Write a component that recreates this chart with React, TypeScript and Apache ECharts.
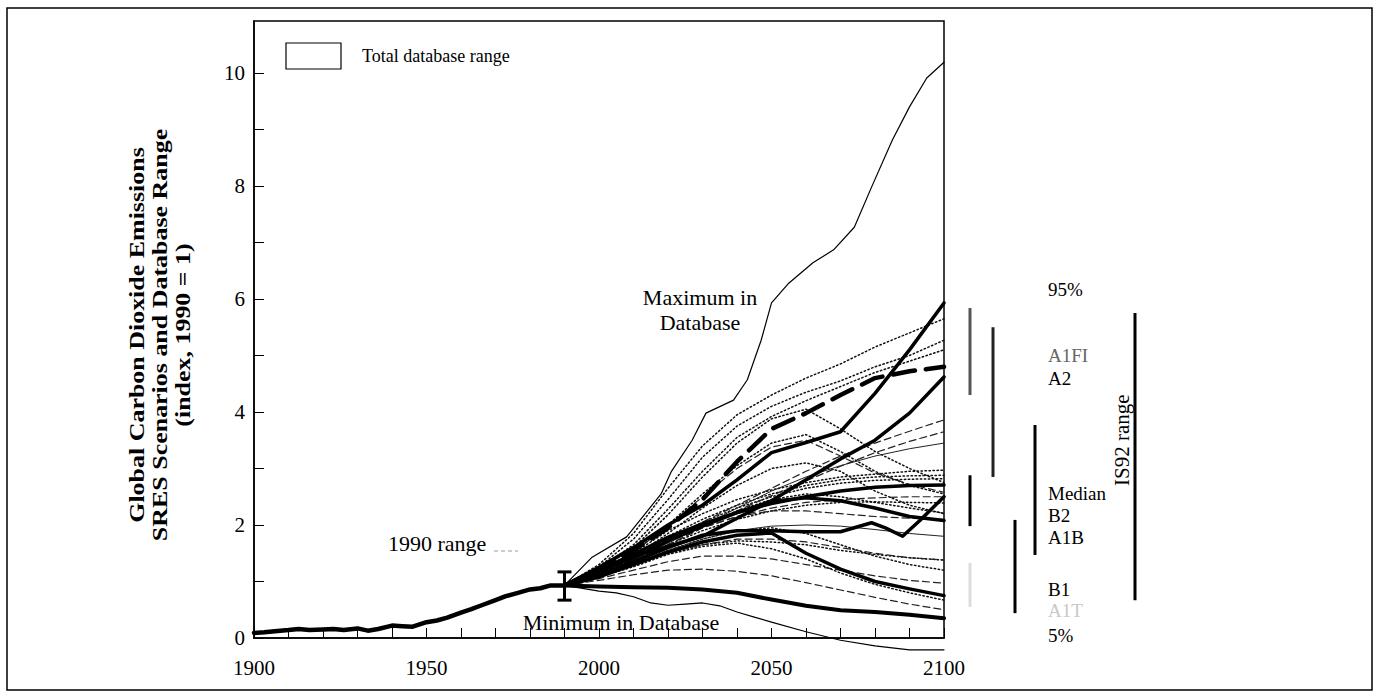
import React, { useEffect, useRef } from "react";
import * as echarts from "echarts";

const FONT = '"Liberation Serif", "Times New Roman", serif';

// ---------- axes ----------
const xTickYears = [1900, 1950, 2000, 2050, 2100];
const yTickLabels = [0, 2, 4, 6, 8, 10];

// ---------- historical emissions (index) ----------
const histYears = [1900, 1903, 1906, 1910, 1913, 1916, 1920, 1923, 1926, 1930, 1933, 1936, 1940, 1943, 1946, 1950, 1953, 1956, 1960, 1963, 1966, 1970, 1973, 1976, 1980, 1983, 1986, 1990];
const histValues = [0.09, 0.1, 0.12, 0.14, 0.16, 0.14, 0.15, 0.16, 0.14, 0.17, 0.13, 0.16, 0.22, 0.21, 0.2, 0.28, 0.31, 0.36, 0.45, 0.51, 0.58, 0.67, 0.74, 0.79, 0.86, 0.88, 0.93, 0.93];

// ---------- 1990 range ----------
const rangeYear = 1990;
const range1990Low = 0.67;
const range1990High = 1.17;

// ---------- database envelope ----------
const maxYears = [1990, 1998, 2008, 2018, 2021, 2027, 2031, 2039, 2043, 2047, 2050, 2055, 2062, 2068, 2074, 2079, 2085, 2090, 2095, 2100];
const maxValues = [0.93, 1.43, 1.79, 2.55, 2.95, 3.5, 3.98, 4.21, 4.57, 5.27, 5.93, 6.28, 6.64, 6.87, 7.27, 7.98, 8.81, 9.4, 9.91, 10.19];
const minYears = [1990, 2000, 2005, 2010, 2015, 2020, 2025, 2030, 2035, 2040, 2045, 2050, 2060, 2070, 2080, 2090, 2100];
const minValues = [0.93, 0.83, 0.8, 0.73, 0.62, 0.58, 0.6, 0.62, 0.57, 0.46, 0.37, 0.28, 0.11, -0.04, -0.14, -0.21, -0.21];

// ---------- scenario years ----------
const scenarioYears = [1990, 2000, 2010, 2020, 2030, 2040, 2050, 2060, 2070, 2080, 2090, 2100];

// ---------- thick (marker / illustrative) scenarios ----------
const a1fiMarker = [0.93, 1.25, 1.6, 2.0, 2.35, 2.8, 3.28, 3.46, 3.65, 4.33, 5.1, 5.93];
const a1Thick2 = [0.93, 1.2, 1.45, 1.62, 1.8, 2.12, 2.43, 2.8, 3.17, 3.5, 3.98, 4.62];
const a2Marker = [0.93, 1.22, 1.55, 1.95, 2.45, 3.12, 3.7, 3.98, 4.3, 4.6, 4.72, 4.8];
const b2Marker = [0.93, 1.2, 1.48, 1.78, 2.02, 2.22, 2.38, 2.5, 2.6, 2.67, 2.7, 2.71];
const a1bMarker = [0.93, 1.18, 1.42, 1.72, 1.98, 2.22, 2.42, 2.48, 2.43, 2.3, 2.15, 2.08];
const b1Marker = [0.93, 1.08, 1.3, 1.52, 1.7, 1.82, 1.86, 1.5, 1.22, 1.0, 0.87, 0.75];
const a1tMarker = [0.93, 0.91, 0.9, 0.89, 0.86, 0.8, 0.68, 0.57, 0.49, 0.46, 0.41, 0.35];
const b2WiggleYears = [1990, 2000, 2010, 2020, 2030, 2040, 2050, 2060, 2070, 2079, 2083, 2088, 2093, 2100];
const b2Wiggle = [0.93, 1.12, 1.35, 1.6, 1.82, 1.9, 1.9, 1.88, 1.88, 2.04, 1.95, 1.8, 2.08, 2.5];

// ---------- thin dotted (A1 family) ----------
const a1Dotted1 = [0.93, 1.3, 1.85, 2.65, 3.4, 3.95, 4.3, 4.6, 4.85, 5.15, 5.4, 5.65];
const a1Dotted2 = [0.93, 1.26, 1.75, 2.45, 3.2, 3.75, 4.1, 4.35, 4.55, 4.8, 5.0, 5.27];
const a1Dotted3 = [0.93, 1.23, 1.65, 2.28, 2.95, 3.55, 3.92, 4.2, 4.45, 4.7, 4.9, 5.1];
const a1Dotted4 = [0.93, 1.2, 1.6, 2.18, 2.85, 3.45, 3.88, 4.05, 3.7, 3.3, 3.0, 2.75];
const a1Dotted5 = [0.93, 1.18, 1.52, 2.0, 2.55, 3.05, 3.45, 3.6, 3.3, 2.95, 2.7, 2.55];
const a1Dotted6 = [0.93, 1.18, 1.5, 1.9, 2.2, 2.45, 2.62, 2.75, 2.85, 2.9, 2.95, 2.97];
const a1Dotted7 = [0.93, 1.16, 1.45, 1.8, 2.1, 2.35, 2.55, 2.7, 2.8, 2.85, 2.87, 2.88];
const a1Dotted8 = [0.93, 1.15, 1.42, 1.75, 2.05, 2.3, 2.5, 2.65, 2.74, 2.79, 2.81, 2.82];
const a1Dotted9 = [0.93, 1.12, 1.35, 1.65, 1.9, 2.1, 2.25, 2.35, 2.4, 2.41, 2.4, 2.39];
const a1Dotted10 = [0.93, 1.12, 1.38, 1.7, 2.0, 2.25, 2.45, 2.55, 2.5, 2.4, 2.3, 2.21];
const a1Dotted11 = [0.93, 1.1, 1.3, 1.55, 1.75, 1.9, 1.95, 1.85, 1.65, 1.45, 1.3, 1.2];
const a1Dotted12 = [0.93, 1.08, 1.28, 1.5, 1.65, 1.72, 1.7, 1.65, 1.55, 1.48, 1.42, 1.38];
const a1Dotted13 = [0.93, 1.08, 1.26, 1.48, 1.62, 1.68, 1.58, 1.4, 1.15, 0.95, 0.8, 0.67];
const a1Dotted14 = [0.93, 1.14, 1.44, 1.85, 2.3, 2.7, 3.0, 3.1, 2.95, 2.6, 2.35, 2.2];

// ---------- thin dashed (A2 / B2 / B1 families) ----------
const a2Dashed1 = [0.93, 1.12, 1.4, 1.72, 2.05, 2.35, 2.65, 2.95, 3.22, 3.45, 3.66, 3.86];
const a2Dashed2 = [0.93, 1.12, 1.38, 1.65, 1.95, 2.25, 2.52, 2.78, 3.04, 3.28, 3.48, 3.65];
const a2Dashed3 = [0.93, 1.16, 1.52, 1.98, 2.5, 3.0, 3.38, 3.5, 3.22, 2.92, 2.72, 2.58];
const b2Dashed1 = [0.93, 1.12, 1.35, 1.65, 1.95, 2.15, 2.3, 2.4, 2.45, 2.48, 2.5, 2.5];
const b2Dashed2 = [0.93, 1.12, 1.38, 1.7, 1.95, 2.15, 2.25, 2.25, 2.2, 2.15, 2.12, 2.1];
const b2Dashed3 = [0.93, 1.1, 1.3, 1.5, 1.65, 1.75, 1.75, 1.7, 1.6, 1.5, 1.42, 1.38];
const b1Dashed1 = [0.93, 1.05, 1.2, 1.35, 1.45, 1.45, 1.4, 1.3, 1.2, 1.1, 1.02, 0.97];
const b1Dashed2 = [0.93, 1.02, 1.12, 1.2, 1.22, 1.18, 1.1, 0.98, 0.85, 0.72, 0.6, 0.5];

// ---------- thin solid (other) ----------
const otherSolid1 = [0.93, 1.12, 1.38, 1.68, 1.98, 2.3, 2.6, 2.85, 3.05, 3.22, 3.35, 3.45];
const otherSolid2 = [0.93, 1.1, 1.32, 1.55, 1.75, 1.9, 1.98, 2.0, 1.98, 1.92, 1.85, 1.8];

// ---------- 2100 ranges (right side) ----------
const rangeNames = ["A1FI", "A2", "B2", "A1T", "B1", "A1B", "IS92"];
const rangeLow = [4.3, 2.85, 1.98, 0.55, 0.44, 1.47, 0.67];
const rangeHigh = [5.84, 5.5, 2.88, 1.33, 2.09, 3.77, 5.75];

const sideLabels = ["95%", "A1FI", "A2", "Median", "B2", "A1B", "B1", "A1T", "5%"];
const sideLabelValues = [6.16, 5.0, 4.6, 2.55, 2.17, 1.77, 0.86, 0.48, 0.05];
const is92Label = "IS92 range";
const is92LabelValue = 3.5;

// ---------- layout / style (not data) ----------
const rangeBarOffsets = [26, 49, 26, 26, 71, 91, 191];
const rangeBarColors = ["#555", "#222", "#000", "#dcdcdc", "#000", "#000", "#000"];
const sideLabelColors = ["#000", "#666", "#000", "#000", "#000", "#000", "#000", "#c8c8c8", "#000"];

export default function App() {
  const ref = useRef<HTMLDivElement>(null);

  useEffect(() => {
    const chart = echarts.init(ref.current as HTMLDivElement, null, { renderer: "svg" });

    const pairs = (xs: number[], ys: number[]) => xs.map((x, i) => [x, ys[i]]);
    const mk = (name: string, xs: number[], ys: number[], width: number, type: any, z: number, color = "#000") => ({
      type: "line",
      name,
      data: pairs(xs, ys),
      showSymbol: false,
      symbol: "none",
      clip: false,
      silent: true,
      z,
      lineStyle: { width, type, color, cap: "round", join: "round" },
    });

    const dotted = [1.4, 2.6];
    const dashed = [7, 4];

    const dottedSet: [string, number[]][] = [
      ["a1Dotted1", a1Dotted1], ["a1Dotted2", a1Dotted2], ["a1Dotted3", a1Dotted3], ["a1Dotted4", a1Dotted4],
      ["a1Dotted5", a1Dotted5], ["a1Dotted6", a1Dotted6], ["a1Dotted7", a1Dotted7], ["a1Dotted8", a1Dotted8],
      ["a1Dotted9", a1Dotted9], ["a1Dotted10", a1Dotted10], ["a1Dotted11", a1Dotted11], ["a1Dotted12", a1Dotted12],
      ["a1Dotted13", a1Dotted13], ["a1Dotted14", a1Dotted14],
    ];
    const dashedSet: [string, number[]][] = [
      ["a2Dashed1", a2Dashed1], ["a2Dashed2", a2Dashed2], ["a2Dashed3", a2Dashed3], ["b2Dashed1", b2Dashed1],
      ["b2Dashed2", b2Dashed2], ["b2Dashed3", b2Dashed3], ["b1Dashed1", b1Dashed1], ["b1Dashed2", b1Dashed2],
    ];
    const thinSolidSet: [string, number[]][] = [["otherSolid1", otherSolid1], ["otherSolid2", otherSolid2]];

    const series: any[] = [];
    dottedSet.forEach(([n, v]) => series.push(mk(n, scenarioYears, v, 1.5, dotted, 2, "#111")));
    dashedSet.forEach(([n, v]) => series.push(mk(n, scenarioYears, v, 1.2, dashed, 2, "#222")));
    thinSolidSet.forEach(([n, v]) => series.push(mk(n, scenarioYears, v, 1, "solid", 2, "#222")));

    series.push(mk("max", maxYears, maxValues, 1.2, "solid", 3));
    series.push(mk("min", minYears, minValues, 1.2, "solid", 3));

    series.push(mk("A1FI", scenarioYears, a1fiMarker, 3.5, "solid", 5));
    series.push(mk("A1 high", scenarioYears, a1Thick2, 3.5, "solid", 5));
    series.push(mk("A2", scenarioYears, a2Marker, 4.5, [22, 11], 5));
    series.push(mk("B2", scenarioYears, b2Marker, 3.5, "solid", 5));
    series.push(mk("A1B", scenarioYears, a1bMarker, 3.5, "solid", 5));
    series.push(mk("B2 wiggle", b2WiggleYears, b2Wiggle, 3.5, "solid", 5));
    series.push(mk("B1", scenarioYears, b1Marker, 3.5, "solid", 5));
    series.push(mk("A1T", scenarioYears, a1tMarker, 4, "solid", 5));

    series.push(mk("history", histYears, histValues, 4.5, "solid", 6));

    // 1990 range I-bar
    series.push({
      type: "custom",
      name: "1990 range",
      clip: false,
      silent: true,
      z: 8,
      data: [[rangeYear, range1990Low, range1990High]],
      renderItem: (_p: any, api: any) => {
        const top = api.coord([api.value(0), api.value(2)]);
        const bot = api.coord([api.value(0), api.value(1)]);
        const hw = 7;
        const st = { stroke: "#000", lineWidth: 3 };
        return {
          type: "group",
          children: [
            { type: "line", shape: { x1: top[0], y1: top[1], x2: bot[0], y2: bot[1] }, style: st },
            { type: "line", shape: { x1: top[0] - hw, y1: top[1], x2: top[0] + hw, y2: top[1] }, style: st },
            { type: "line", shape: { x1: bot[0] - hw, y1: bot[1], x2: bot[0] + hw, y2: bot[1] }, style: st },
          ],
        };
      },
    });

    // 2100 range bars on the right
    series.push({
      type: "custom",
      name: "2100 ranges",
      clip: false,
      silent: true,
      z: 8,
      data: rangeLow.map((l, i) => [2100, l, rangeHigh[i], i]),
      renderItem: (_p: any, api: any) => {
        const i = api.value(3);
        const a = api.coord([2100, api.value(1)]);
        const b = api.coord([2100, api.value(2)]);
        const x = a[0] + rangeBarOffsets[i];
        return {
          type: "line",
          shape: { x1: x, y1: a[1], x2: x, y2: b[1] },
          style: { stroke: rangeBarColors[i], lineWidth: 3 },
        };
      },
    });

    // side labels
    series.push({
      type: "custom",
      name: "side labels",
      clip: false,
      silent: true,
      z: 8,
      data: sideLabelValues.map((v, i) => [2100, v, i]),
      renderItem: (_p: any, api: any) => {
        const i = api.value(2);
        const p = api.coord([2100, api.value(1)]);
        return {
          type: "text",
          x: p[0] + 104,
          y: p[1],
          style: {
            text: sideLabels[i],
            fill: sideLabelColors[i],
            fontSize: 19,
            fontFamily: FONT,
            align: "left",
            verticalAlign: "middle",
          },
        };
      },
    });

    series.push({
      type: "custom",
      name: "IS92 label",
      clip: false,
      silent: true,
      z: 8,
      data: [[2100, is92LabelValue]],
      renderItem: (_p: any, api: any) => {
        const p = api.coord([2100, api.value(1)]);
        return {
          type: "text",
          x: p[0] + 178,
          y: p[1],
          rotation: Math.PI / 2,
          style: { text: is92Label, fill: "#000", fontSize: 21, fontFamily: FONT, align: "center", verticalAlign: "middle" },
        };
      },
    });

    const isEvenInt = (v: number) => Math.abs(v - Math.round(v)) < 1e-6 && yTickLabels.indexOf(Math.round(v)) >= 0;

    chart.setOption({
      animation: false,
      backgroundColor: "#fff",
      grid: { left: 254, right: 435, top: 21, bottom: 61, show: true, borderColor: "#000", borderWidth: 1.5 },
      xAxis: {
        type: "value",
        min: 1900,
        max: 2100,
        interval: 10,
        axisLine: { show: true, lineStyle: { color: "#000", width: 1.5 } },
        axisTick: { show: true, inside: true, length: 10, lineStyle: { color: "#000", width: 1 } },
        axisLabel: {
          interval: 0,
          formatter: (v: number) => (xTickYears.indexOf(v) >= 0 ? String(v) : ""),
          color: "#000",
          fontSize: 21,
          fontFamily: FONT,
          margin: 19,
        },
        splitLine: { show: false },
      },
      yAxis: {
        type: "value",
        min: 0,
        max: 10.92,
        interval: 1,
        axisLine: { show: true, lineStyle: { color: "#000", width: 1.5 } },
        axisTick: { show: true, inside: true, length: 10, lineStyle: { color: "#000", width: 1 } },
        axisLabel: {
          interval: 0,
          showMaxLabel: false,
          formatter: (v: number) => (isEvenInt(v) ? String(Math.round(v)) : ""),
          color: "#000",
          fontSize: 21,
          fontFamily: FONT,
          margin: 9,
        },
        splitLine: { show: false },
      },
      graphic: [
        { type: "rect", silent: true, shape: { x: 7, y: 8, width: 1365, height: 682 }, style: { fill: "none", stroke: "#000", lineWidth: 1.5 }, z: 0 },
        { type: "rect", silent: true, shape: { x: 286, y: 43, width: 55, height: 26 }, style: { fill: "#fff", stroke: "#000", lineWidth: 1.2 }, z: 10 },
        { type: "text", silent: true, x: 362, y: 56, style: { text: "Total database range", fontSize: 18, fontFamily: FONT, fill: "#000", align: "left", verticalAlign: "middle" }, z: 10 },
        {
          type: "text",
          silent: true,
          x: 160,
          y: 335,
          rotation: Math.PI / 2,
          scaleX: 1.18,
          style: {
            text: "Global Carbon Dioxide Emissions\nSRES Scenarios and Database Range\n(index, 1990 = 1)",
            fontSize: 22,
            fontWeight: "bold",
            fontFamily: FONT,
            lineHeight: 23,
            fill: "#000",
            align: "center",
            verticalAlign: "middle",
          },
          z: 10,
        },
        { type: "text", silent: true, x: 700, y: 310, style: { text: "Maximum in\nDatabase", fontSize: 22, fontFamily: FONT, lineHeight: 25, fill: "#000", align: "center", verticalAlign: "middle" }, z: 10 },
        { type: "text", silent: true, x: 621, y: 622, style: { text: "Minimum in Database", fontSize: 22, fontFamily: FONT, fill: "#000", align: "center", verticalAlign: "middle" }, z: 10 },
        { type: "text", silent: true, x: 388, y: 543, style: { text: "1990 range", fontSize: 22, fontFamily: FONT, fill: "#000", align: "left", verticalAlign: "middle" }, z: 10 },
        { type: "line", silent: true, shape: { x1: 494, y1: 551, x2: 518, y2: 551 }, style: { stroke: "#999", lineWidth: 1, lineDash: [4, 3] }, z: 10 },
      ],
      series,
    });

    return () => chart.dispose();
  }, []);

  return (
    <div
      ref={ref}
      style={{ position: "absolute", left: 0, top: 0, width: 1379, height: 699, background: "#fff" }}
    />
  );
}
